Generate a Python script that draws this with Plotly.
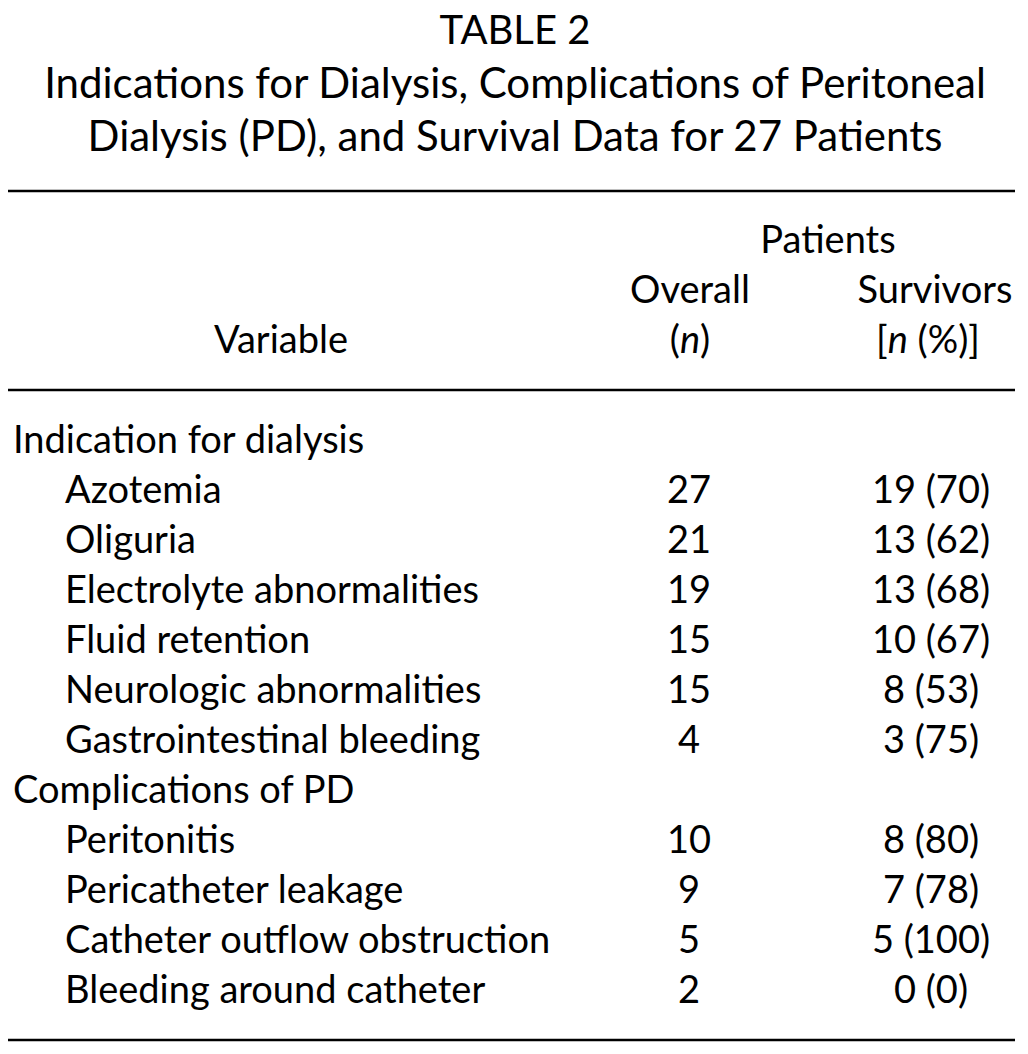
import plotly.graph_objects as go

title_lines = ["TABLE 2",
               "Indications for Dialysis, Complications of Peritoneal",
               "Dialysis (PD), and Survival Data for 27 Patients"]

sections = ["Indication for dialysis", "Complications of PD"]
indication_vars = ["Azotemia", "Oliguria", "Electrolyte abnormalities", "Fluid retention",
                   "Neurologic abnormalities", "Gastrointestinal bleeding"]
indication_overall = [27, 21, 19, 15, 15, 4]
indication_surv_n = [19, 13, 13, 10, 8, 3]
indication_surv_pct = [70, 62, 68, 67, 53, 75]

complication_vars = ["Peritonitis", "Pericatheter leakage", "Catheter outflow obstruction",
                     "Bleeding around catheter"]
complication_overall = [10, 9, 5, 2]
complication_surv_n = [8, 7, 5, 0]
complication_surv_pct = [80, 78, 100, 0]

FONT = "Lato, 'Noto Sans', sans-serif"
FS = 38
W, H = 1028, 1054
PAGE_MARGIN = 8  # default body margin of the html page

# Build rows
rows = []  # (label, kind, overall, survivors)
rows.append((sections[0], "section", "", ""))
for v, o, n, p in zip(indication_vars, indication_overall, indication_surv_n, indication_surv_pct):
    rows.append((v, "item", str(o), f"{n} ({p})"))
rows.append((sections[1], "section", "", ""))
for v, o, n, p in zip(complication_vars, complication_overall, complication_surv_n, complication_surv_pct):
    rows.append((v, "item", str(o), f"{n} ({p})"))

row_y0, row_dy = 443, 50
ys = [row_y0 + i * row_dy for i in range(len(rows))]

sec_x, item_x, overall_x, surv_x = 13, 65, 689, 931

fig = go.Figure()

def add_text(xs, ys_, texts, pos, size=FS):
    fig.add_trace(go.Scatter(x=xs, y=ys_, text=texts, mode="text", textposition=pos,
                             textfont=dict(family=FONT, size=size, color="black"),
                             cliponaxis=False, hoverinfo="skip", showlegend=False))

# Title
add_text([515], [34], title_lines[:1], "middle center", size=40)
add_text([515, 515], [87, 140], title_lines[1:], "middle center", size=42)

# Header
add_text([828], [243], ["Patients"], "middle center")
add_text([690, 935], [293, 293], ["Overall", "Survivors"], "middle center")
add_text([281, 690, 928], [343, 343, 343], ["Variable", "(<i>n</i>)", "[<i>n</i> (%)]"], "middle center")

# Body
sec = [(r[0], y) for r, y in zip(rows, ys) if r[1] == "section"]
itm = [(r, y) for r, y in zip(rows, ys) if r[1] == "item"]
add_text([sec_x] * len(sec), [y for _, y in sec], [t for t, _ in sec], "middle right")
add_text([item_x] * len(itm), [y for _, y in itm], [r[0] for r, _ in itm], "middle right")
add_text([overall_x] * len(itm), [y for _, y in itm], [r[2] for r, _ in itm], "middle center")
add_text([surv_x] * len(itm), [y for _, y in itm], [r[3] for r, _ in itm], "middle center")

# Rules
for yline in [191, 390, 1040]:
    fig.add_shape(type="line", x0=8, x1=1015, y0=yline, y1=yline,
                  line=dict(color="black", width=2.5), xref="x", yref="y")

fig.update_layout(width=W - PAGE_MARGIN, height=H - PAGE_MARGIN,
                  margin=dict(l=0, r=0, t=0, b=0),
                  paper_bgcolor="white", plot_bgcolor="white",
                  xaxis=dict(range=[PAGE_MARGIN, W], visible=False, fixedrange=True),
                  yaxis=dict(range=[H, PAGE_MARGIN], visible=False, fixedrange=True))

fig.write_html("out.html", config={"displayModeBar": False})
